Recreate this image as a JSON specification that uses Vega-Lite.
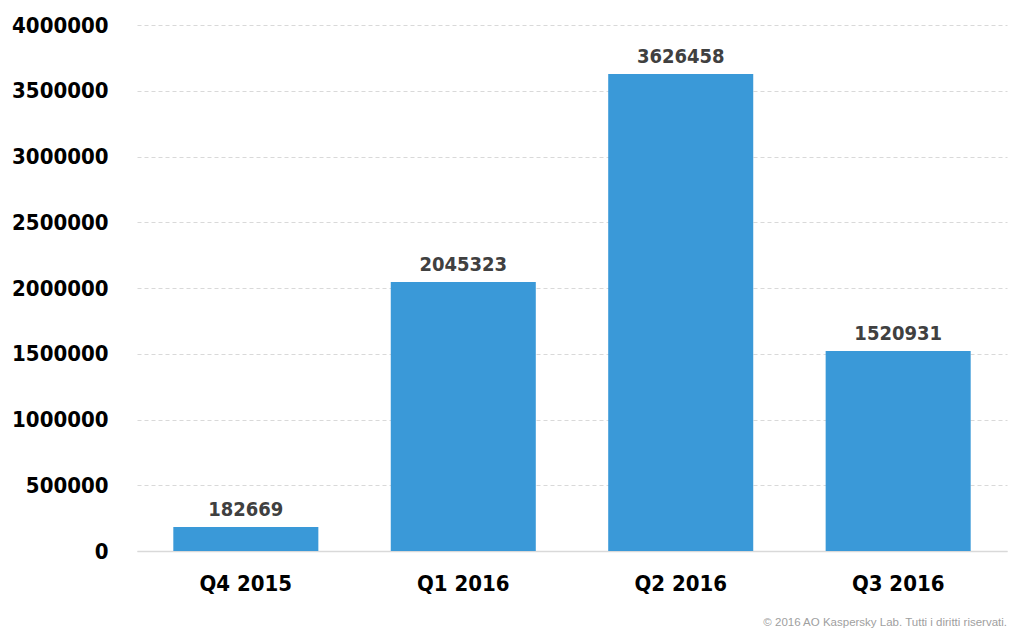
{
  "$schema": "https://vega.github.io/schema/vega-lite/v6.json",
  "width": 870,
  "height": 526,
  "autosize": "none",
  "padding": {"left": 137, "top": 25, "right": 10, "bottom": 88},
  "background": "white",
  "data": {
    "values": [
      {"quarter": "Q4 2015", "count": 182669},
      {"quarter": "Q1 2016", "count": 2045323},
      {"quarter": "Q2 2016", "count": 3626458},
      {"quarter": "Q3 2016", "count": 1520931}
    ]
  },
  "title": {
    "text": "© 2016 AO Kaspersky Lab. Tutti i diritti riservati.",
    "orient": "bottom",
    "anchor": "end",
    "font": "Liberation Sans",
    "fontSize": 11.5,
    "fontWeight": "normal",
    "color": "#a0a0a0",
    "offset": 23
  },
  "encoding": {
    "x": {
      "field": "quarter",
      "type": "nominal",
      "sort": null,
      "scale": {"paddingInner": 0.333, "paddingOuter": 0.167},
      "axis": {
        "title": null,
        "labelAngle": 0,
        "labelFont": "DejaVu Sans Condensed",
        "labelFontSize": 22,
        "labelFontWeight": "bold",
        "labelColor": "#000000",
        "labelPadding": 22,
        "ticks": false,
        "domainColor": "#d9d9d9",
        "domainWidth": 1.5,
        "grid": false
      }
    },
    "y": {
      "field": "count",
      "type": "quantitative",
      "scale": {"domain": [0, 4000000], "nice": false},
      "axis": {
        "title": null,
        "values": [0, 500000, 1000000, 1500000, 2000000, 2500000, 3000000, 3500000, 4000000],
        "format": "d",
        "labelFont": "DejaVu Sans Condensed",
        "labelFontSize": 22,
        "labelFontWeight": "bold",
        "labelColor": "#000000",
        "labelPadding": 29,
        "ticks": false,
        "domain": false,
        "gridColor": "#d9d9d9",
        "gridDash": [4, 3],
        "gridWidth": 1
      }
    }
  },
  "layer": [
    {"mark": {"type": "bar", "color": "#3a99d8"}},
    {
      "mark": {
        "type": "text",
        "baseline": "bottom",
        "dy": -7,
        "font": "DejaVu Sans Condensed",
        "fontSize": 20,
        "fontWeight": "bold",
        "color": "#404040"
      },
      "encoding": {"text": {"field": "count", "type": "quantitative", "format": "d"}}
    }
  ],
  "config": {"view": {"stroke": null}}
}
